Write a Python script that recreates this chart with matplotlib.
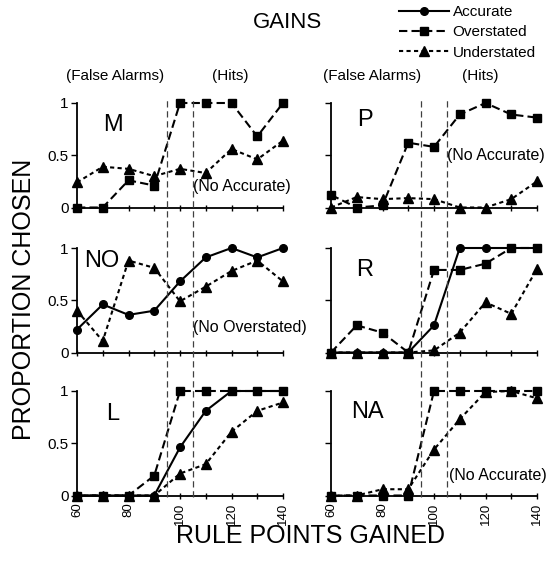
import matplotlib
matplotlib.use('Agg')
import matplotlib.pyplot as plt
from matplotlib.transforms import blended_transform_factory
from matplotlib.lines import Line2D

plt.rcParams['font.family'] = ['Liberation Sans', 'DejaVu Sans']

# ---------------- data ----------------
x_points = [60, 70, 80, 90, 100, 110, 120, 130, 140]
x_tick_values = [60, 80, 100, 120, 140]
x_tick_labels = ['60', '80', '100', '120', '140']
y_tick_values = [0, 0.5, 1]
y_tick_labels = ['0', '0.5', '1']
series_names = ['Accurate', 'Overstated', 'Understated']
panel_names = ['M', 'P', 'NO', 'R', 'L', 'NA']
criterion_lines = [95, 105]

M_accurate = None
M_overstated = [0, 0, 0.26, 0.21, 1, 1, 1, 0.68, 1]
M_understated = [0.24, 0.39, 0.37, 0.30, 0.37, 0.33, 0.56, 0.46, 0.64]

P_accurate = None
P_overstated = [0.12, 0, 0.02, 0.62, 0.58, 0.89, 1.0, 0.89, 0.86]
P_understated = [0, 0.10, 0.08, 0.09, 0.08, 0, 0, 0.08, 0.25]

NO_accurate = [0.22, 0.46, 0.36, 0.40, 0.68, 0.91, 1.0, 0.91, 1.0]
NO_overstated = None
NO_understated = [0.40, 0.11, 0.88, 0.81, 0.49, 0.63, 0.78, 0.88, 0.68]

R_accurate = [0, 0, 0, 0, 0.26, 1, 1, 1, 1]
R_overstated = [0, 0.26, 0.19, 0, 0.79, 0.79, 0.85, 1, 1]
R_understated = [0, 0, 0, 0, 0.02, 0.19, 0.48, 0.37, 0.80]

L_accurate = [0, 0, 0, 0, 0.46, 0.81, 1, 1, 1]
L_overstated = [0, 0, 0, 0.19, 1, 1, 1, 1, 1]
L_understated = [0, 0, 0, 0, 0.21, 0.30, 0.61, 0.81, 0.89]

NA_accurate = None
NA_overstated = [0, 0, 0, 0, 1, 1, 1, 1, 1]
NA_understated = [0, 0, 0.06, 0.06, 0.44, 0.73, 0.99, 1.0, 0.93]

panel_data = {
    'M': (M_accurate, M_overstated, M_understated),
    'P': (P_accurate, P_overstated, P_understated),
    'NO': (NO_accurate, NO_overstated, NO_understated),
    'R': (R_accurate, R_overstated, R_understated),
    'L': (L_accurate, L_overstated, L_understated),
    'NA': (NA_accurate, NA_overstated, NA_understated),
}
missing_notes = {'M': '(No Accurate)', 'P': '(No Accurate)',
                 'NO': '(No Overstated)', 'NA': '(No Accurate)'}

# ---------------- layout ----------------
W, H = 554, 563
fig = plt.figure(figsize=(W / 100, H / 100), dpi=100)
col_left = [77, 331]
ax_w = 206
row_top = [103, 248, 391]
ax_h = 104.5

styles = [
    dict(linestyle='-', marker='o', ms=5.5),
    dict(linestyle=(0, (4, 2)), marker='s', ms=5.5),
    dict(linestyle=(0, (2, 1.6)), marker='^', ms=6.5),
]

note_pos = {'M': (105, 0.20), 'P': (105, 0.50), 'NO': (105, 0.24), 'NA': (106, 0.19)}
letter_pos = {'M': (74, 0.79), 'P': (73, 0.84), 'NO': (69.5, 0.88),
              'R': (73, 0.79), 'L': (74, 0.78), 'NA': (74, 0.80)}

axes = {}
handles = []
for i, name in enumerate(panel_names):
    r, c = divmod(i, 2)
    ax = fig.add_axes([col_left[c] / W, 1 - (row_top[r] + ax_h) / H, ax_w / W, ax_h / H])
    axes[(r, c)] = ax
    for s_idx, series in enumerate(panel_data[name]):
        if series is None:
            continue
        ln, = ax.plot(x_points, series, color='black', lw=1.5, mec='black', mfc='black',
                      clip_on=False, zorder=3 + s_idx, label=series_names[s_idx], **styles[s_idx])
        if name == 'L':
            handles.append(ln)
    ax.set_xlim(60, 140)
    ax.set_ylim(0, 1)
    for sp in ['top', 'right']:
        ax.spines[sp].set_visible(False)
    ax.spines['left'].set_linewidth(1.3)
    ax.spines['bottom'].set_linewidth(1.3)
    ax.set_xticks(x_points)
    ax.set_yticks(y_tick_values)
    ax.tick_params(axis='y', direction='out', length=4, width=1, labelsize=11, pad=2)
    ax.tick_params(axis='x', direction='inout', length=4, width=1, labelsize=9.5, pad=3)
    if c == 0:
        ax.set_yticklabels(y_tick_labels)
    else:
        ax.set_yticklabels([])
    if r == 2:
        labs = [x_tick_labels[x_tick_values.index(v)] if v in x_tick_values else '' for v in x_points]
        ax.set_xticklabels(labs, rotation=90)
    else:
        ax.set_xticklabels([])
    lx, ly = letter_pos[name]
    ax.text(lx, ly, name, fontsize=17, ha='center', va='center')
    if name in missing_notes:
        nx, ny = note_pos[name]
        ax.text(nx, ny, missing_notes[name], fontsize=11.5, ha='left', va='center')

# top annotations
for c, (fa_x, hit_x) in enumerate([(74.8, 119.4), (76, 118)]):
    ax = axes[(0, c)]
    ax.text(fa_x, 1.26, '(False Alarms)', fontsize=11, ha='center', va='center')
    ax.text(hit_x, 1.26, '(Hits)', fontsize=11, ha='center', va='center')

# criterion dashed lines spanning all rows
for c in range(2):
    trans = blended_transform_factory(axes[(0, c)].transData, fig.transFigure)
    for xv in criterion_lines:
        fig.add_artist(Line2D([xv, xv], [1 - 497 / H, 1 - 99 / H], transform=trans,
                              color='0.25', lw=0.9, linestyle=(0, (5, 3))))

fig.text(288 / W, 1 - 23 / H, 'GAINS', fontsize=16, ha='center', va='center')
fig.text(24 / W, 1 - 299 / H, 'PROPORTION CHOSEN', fontsize=18, rotation=90, ha='center', va='center')
fig.text(310 / W, 1 - 536 / H, 'RULE POINTS GAINED', fontsize=18, ha='center', va='center')

fig.legend(handles=handles, loc='upper left', bbox_to_anchor=(399 / W, 1 - 5 / H),
           frameon=False, fontsize=11, handlelength=3.3, handletextpad=0.2,
           labelspacing=0.42, borderpad=0, borderaxespad=0)

fig.savefig('out.png', dpi=100)
